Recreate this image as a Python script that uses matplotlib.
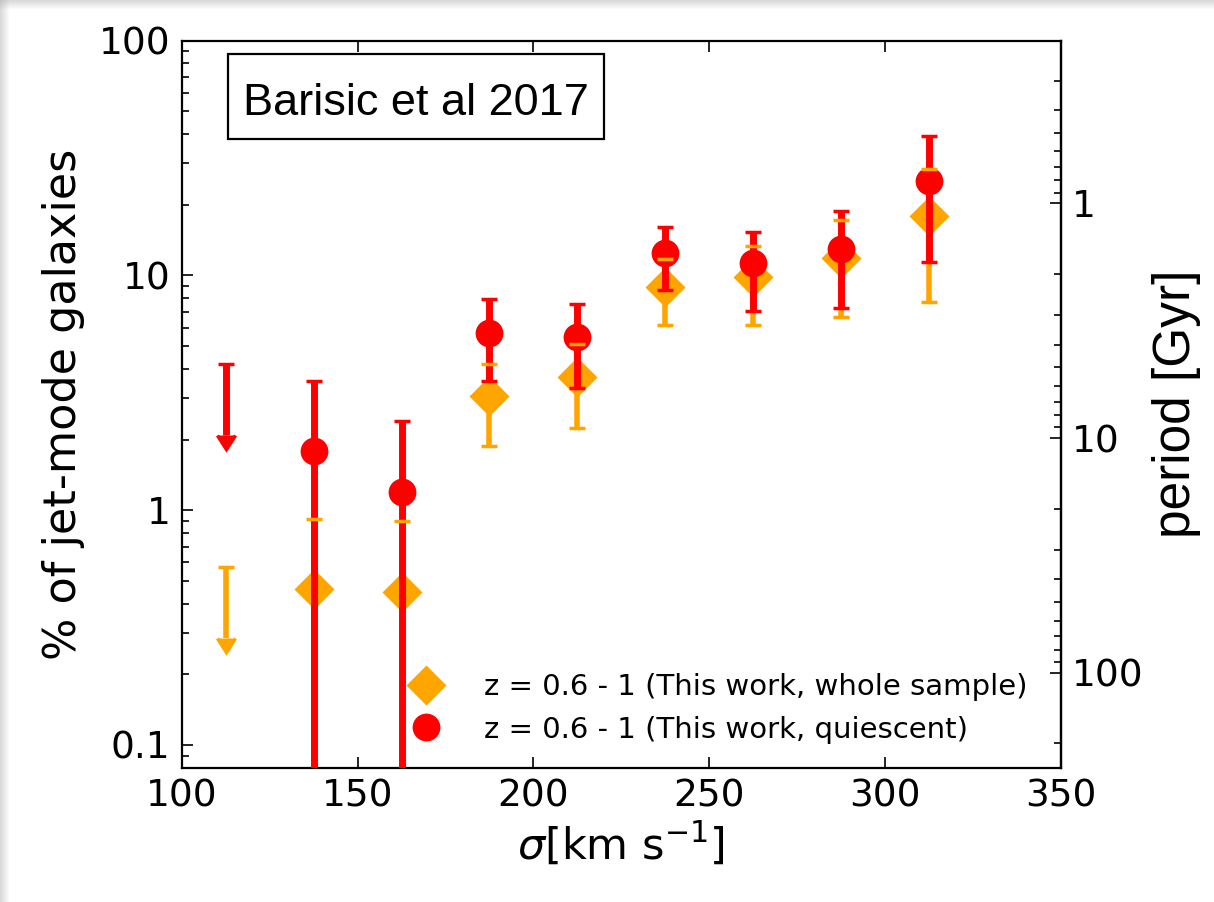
import numpy as np
import matplotlib
matplotlib.use("Agg")
import matplotlib.pyplot as plt
from matplotlib.ticker import FuncFormatter, FixedLocator, NullFormatter
from matplotlib.patches import Rectangle

# velocity dispersion bins [km/s]
sigma = [112.5, 137.5, 162.5, 187.5, 212.5, 237.5, 262.5, 287.5, 312.5]

# whole sample (orange diamonds); first bin is an upper limit
whole_val = [0.46, 0.45, 3.05, 3.68, 8.96, 9.82, 11.9, 17.96]
whole_hi = [0.92, 0.90, 4.18, 5.10, 11.7, 13.3, 17.2, 28.4]
whole_lo = [0.0, 0.0, 1.88, 2.24, 6.15, 6.15, 6.63, 7.68]
whole_ul = 0.57

# quiescent sample (red circles); first bin is an upper limit
quies_val = [1.79, 1.20, 5.70, 5.45, 12.5, 11.3, 12.9, 25.2]
quies_hi = [3.55, 2.40, 7.94, 7.55, 16.1, 15.3, 18.9, 39.3]
quies_lo = [0.0, 0.0, 3.56, 3.30, 8.67, 7.05, 7.24, 11.4]
quies_ul = 4.18

labels = ["z = 0.6 - 1 (This work, whole sample)",
          "z = 0.6 - 1 (This work, quiescent)"]

period_const = 20.3  # period [Gyr] = const / (% of jet-mode galaxies)
period_major = [1, 10, 100]
period_minor = [0.3, 0.4, 0.5, 0.6, 0.7, 0.8, 0.9,
                2, 3, 4, 5, 6, 7, 8, 9,
                20, 30, 40, 50, 60, 70, 80, 90, 200]

orange = "#FFA500"
red = "#FF0000"

fig = plt.figure(figsize=(12.14, 9.02), dpi=100)
ax = fig.add_axes([0.1497, 0.1489, 0.7243, 0.806])

xs = sigma[1:]
wv = np.array(whole_val)
qv = np.array(quies_val)
w_err = [wv - np.array(whole_lo), np.array(whole_hi) - wv]
q_err = [qv - np.array(quies_lo), np.array(quies_hi) - qv]

w = ax.errorbar(xs, wv, yerr=w_err, fmt="D", color=orange, ms=20, mec="none",
                elinewidth=4, capsize=5.5, capthick=2.5)
wu = ax.errorbar([sigma[0]], [whole_ul], yerr=[whole_ul / 2], uplims=True,
                 fmt="none", ecolor=orange, elinewidth=4, capsize=5.5, capthick=2.5)
q = ax.errorbar(xs, qv, yerr=q_err, fmt="o", color=red, ms=20, mec="none",
                elinewidth=5, capsize=5.5, capthick=2.5)
qu = ax.errorbar([sigma[0]], [quies_ul], yerr=[quies_ul / 2], uplims=True,
                 fmt="none", ecolor=red, elinewidth=5, capsize=5.5, capthick=2.5)

# arrow heads of the upper limits in the series colour
for cont, col in [(wu, orange), (qu, red)]:
    for c in cont[1]:
        c.set_markerfacecolor(col)
        c.set_markeredgecolor(col)
        if c.get_marker() != "_":
            c.set_markersize(13)

# layering as in the original figure
for b in w[2]:
    b.set_zorder(1)
w[0].set_zorder(2)
for c in w[1]:
    c.set_zorder(5)
for b in q[2]:
    b.set_zorder(3)
for c in q[1]:
    c.set_zorder(3)
q[0].set_zorder(4)
for b in list(wu[2]) + list(wu[1]):
    b.set_zorder(1)
for b in list(qu[2]) + list(qu[1]):
    b.set_zorder(3)

ax.set_yscale("log")
ax.set_xlim(100, 350)
ax.set_ylim(0.08, 100)
ax.set_xticks([100, 150, 200, 250, 300, 350])
fmt = FuncFormatter(lambda v, _: f"{v:g}")
ax.yaxis.set_major_formatter(fmt)
ax.yaxis.set_minor_formatter(NullFormatter())
ax.tick_params(which="both", direction="in", labelsize=27, width=1.2, pad=8)
ax.tick_params(axis="x", top=True)
ax.tick_params(which="major", length=8)
ax.tick_params(which="minor", length=5)
for s in ax.spines.values():
    s.set_linewidth(1.6)

ax.set_xlabel(r"$\sigma$[km s$^{-1}$]", fontsize=31, labelpad=4)
ax.set_ylabel("% of jet-mode galaxies", fontsize=32, labelpad=10)

sec = ax.secondary_yaxis("right", functions=(lambda y: period_const / y,
                                              lambda p: period_const / p))
sec.yaxis.set_major_locator(FixedLocator(period_major))
sec.yaxis.set_minor_locator(FixedLocator(period_minor))
sec.yaxis.set_major_formatter(fmt)
sec.yaxis.set_minor_formatter(NullFormatter())
sec.tick_params(which="both", direction="in", labelsize=27, width=1.2, pad=8)
sec.tick_params(which="major", length=8)
sec.tick_params(which="minor", length=5)
sec.spines["right"].set_linewidth(1.6)
sec.set_ylabel("period [Gyr]", fontsize=37, family="Liberation Sans", labelpad=6)

# label box
ax.add_patch(Rectangle((0.0527, 0.8648), 0.4276, 0.1169, transform=ax.transAxes,
                       fc="white", ec="black", lw=1.6, zorder=6))
ax.text(0.0697, 0.8978, "Barisic et al 2017", transform=ax.transAxes,
        fontsize=32.5, family="Liberation Sans", ha="left", va="baseline",
        zorder=7)

ax.legend(handles=[w[0], q[0]], labels=labels, loc="lower right",
          bbox_to_anchor=(0.985, 0.005), frameon=False, fontsize=21, numpoints=1,
          handlelength=1.0, handletextpad=1.5, labelspacing=0.5,
          borderaxespad=0.3)

# soft gray shadow along the top and left edges of the picture
for i in range(9):
    a = 0.4 * (1 - i / 9)
    fig.add_artist(Rectangle((0, 1 - (i + 1) / 902), 1, 1 / 902,
                             transform=fig.transFigure, color="#a0a0a0",
                             alpha=a, lw=0))
    fig.add_artist(Rectangle((i / 1214, 0), 1 / 1214, 1,
                             transform=fig.transFigure, color="#a0a0a0",
                             alpha=a, lw=0))

fig.savefig("out.png", dpi=100)
